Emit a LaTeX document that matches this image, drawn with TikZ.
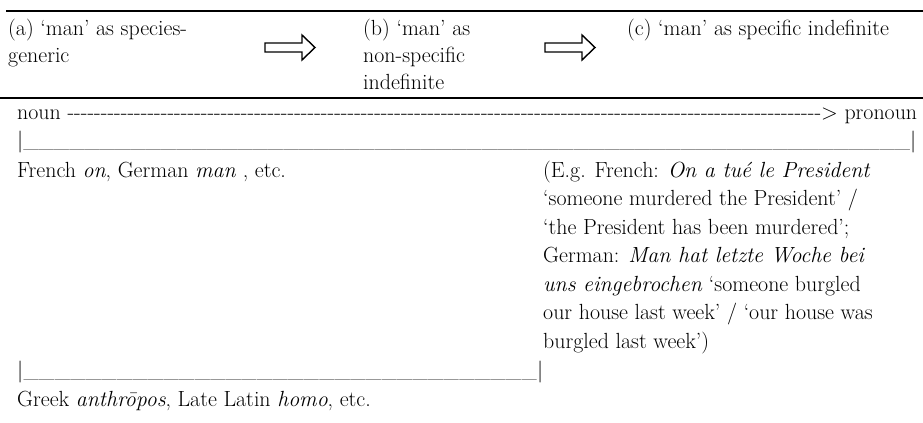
\documentclass[tikz,border=0pt]{standalone}
\usepackage{fontspec}
\begin{document}
\begin{tikzpicture}[x=1bp,y=-1bp,
  txt/.style={anchor=base west, inner sep=0pt, font=\fontsize{22}{28}\selectfont},
  toprule/.style={line width=2bp},
  blockarrow/.style={draw, line width=1.4bp, line join=miter}]
\useasboundingbox (0,0) rectangle (923,422);
% rules
\coordinate (r1l) at (6,11); \coordinate (r1r) at (923,11);
\coordinate (r2l) at (0,98); \coordinate (r2r) at (923,98);
\draw[toprule] (r1l) -- (r1r);
\draw[toprule] (r2l) -- (r2r);
% row 1
\node[txt] (a1) at (8,35) {(a) ‘man’ as species-};
\node[txt] (a2) at (8,62) {generic};
\node[txt] (b1) at (363,35) {(b) ‘man’ as};
\node[txt] (b2) at (363,62) {non-specific};
\node[txt] (b3) at (363,89) {indefinite};
\node[txt] (c1) at (627,35) {(c) ‘man’ as specific indefinite};
% block arrows
\draw[blockarrow] (265,43) -- (302,43) -- (302,35) -- (315,47.5) -- (302,60) -- (302,52) -- (265,52) -- cycle;
\draw[blockarrow] (545,43) -- (582,43) -- (582,35) -- (595,47.5) -- (582,60) -- (582,52) -- (545,52) -- cycle;
% scale
\node[txt] (noun) at (17,119) {\hbox to 900bp{noun \xleaders\hbox{-}\hfill>\ pronoun}};
\node[txt] (bar1) at (17,147.5) {\hbox to 899bp{|\xleaders\hbox{\_}\hfill|}};
\node[txt] (fr) at (17,177) {French \textit{on}, German \textit{man} , etc.};
\node[txt] (e1) at (543,177) {(E.g. French: \textit{On a tué le President}};
\node[txt] (e2) at (543,205.5) {‘someone murdered the President’ /};
\node[txt] (e3) at (543,234) {‘the President has been murdered’;};
\node[txt] (e4) at (543,262.5) {German: \textit{Man hat letzte Woche bei}};
\node[txt] (e5) at (543,291) {\textit{uns eingebrochen} ‘someone burgled};
\node[txt] (e6) at (543,319.5) {our house last week’ / ‘our house was};
\node[txt] (e7) at (543,348) {burgled last week’)};
\node[txt] (bar2) at (17,377) {\hbox to 526bp{|\xleaders\hbox{\_}\hfill|}};
\node[txt] (gr) at (17,406) {Greek \textit{anthrōpos}, Late Latin \textit{homo}, etc.};
\end{tikzpicture}
\end{document}
